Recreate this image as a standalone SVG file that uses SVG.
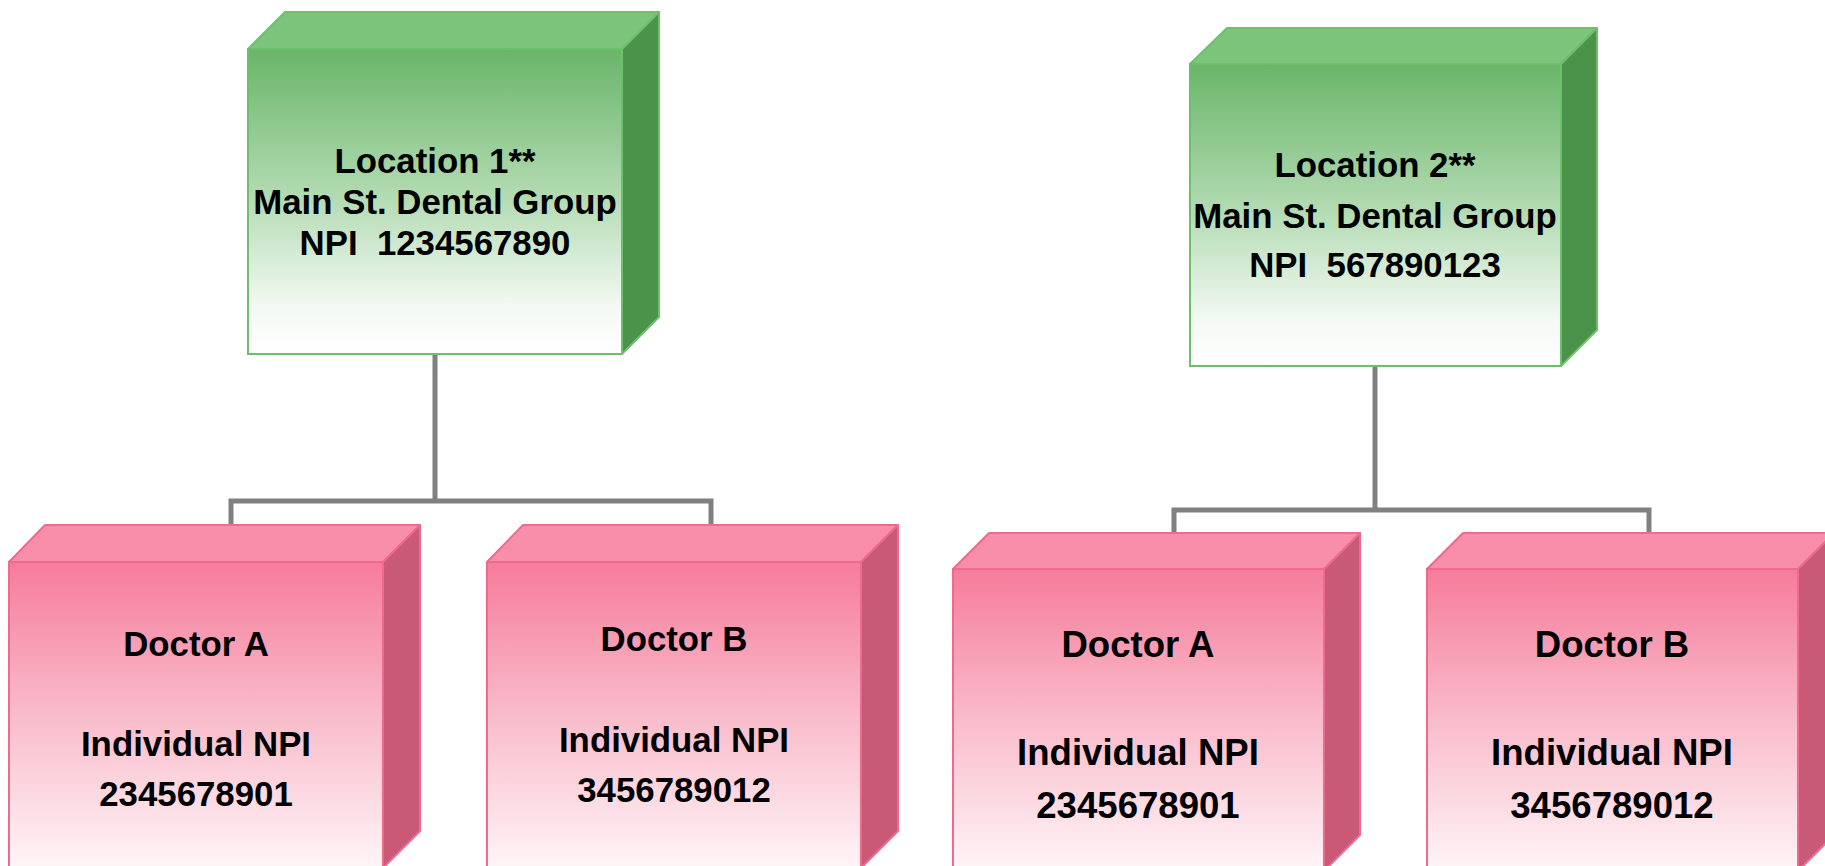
<svg xmlns="http://www.w3.org/2000/svg" width="1825" height="866" viewBox="0 0 1825 866">
<defs>
<linearGradient id="gFront" x1="0" y1="0" x2="0" y2="1">
<stop offset="0" stop-color="#69b569"/>
<stop offset="0.5" stop-color="#b5dcb5"/>
<stop offset="0.85" stop-color="#f4f9f4"/>
<stop offset="1" stop-color="#ffffff"/>
</linearGradient>
<linearGradient id="pFront" x1="0" y1="0" x2="0" y2="1">
<stop offset="0" stop-color="#f67b9b"/>
<stop offset="0.5" stop-color="#f9bccb"/>
<stop offset="1" stop-color="#fff6f8"/>
</linearGradient>
<style>
.gf{fill:url(#gFront);stroke:#6cc06c;stroke-width:2}
.gt{fill:#7cc47c;stroke:#6cc06c;stroke-width:2;stroke-linejoin:round}
.gs{fill:#4b934a;stroke:#6cc06c;stroke-width:2;stroke-linejoin:round}
.pf{fill:url(#pFront);stroke:#f06a90;stroke-width:2}
.pt{fill:#f88eaa;stroke:#f06a90;stroke-width:2;stroke-linejoin:round}
.ps{fill:#c85a78;stroke:#f06a90;stroke-width:2;stroke-linejoin:round}
.lbl{font-family:"Liberation Sans",Arial,sans-serif;font-weight:bold;fill:#000;text-anchor:middle}
.l34{font-size:34.8px}
.l36{font-size:36.6px}
.conn{fill:none;stroke:#808080;stroke-width:5}
</style>
</defs>
<rect width="1825" height="866" fill="#ffffff"/>
<g id="connectors">
<path class="conn" d="M435,354 V501"/>
<path class="conn" d="M231,525 V501 H711 V525"/>
<path class="conn" d="M1375,366 V510"/>
<path class="conn" d="M1174,533 V510 H1649 V533"/>
</g>
<g id="location1">
<polygon class="gt" points="248,49 285,12 659,12 622,49"/>
<polygon class="gs" points="622,49 659,12 659,317 622,354"/>
<rect class="gf" x="248" y="49" width="374" height="305"/>
<text class="lbl l34" xml:space="preserve"><tspan x="435" y="173">Location 1**</tspan><tspan x="435" y="214">Main St. Dental Group</tspan><tspan x="435" y="255">NPI  1234567890</tspan></text>
</g>
<g id="location2">
<polygon class="gt" points="1190,64 1227,28 1597,28 1561,64"/>
<polygon class="gs" points="1561,64 1597,28 1597,330 1561,366"/>
<rect class="gf" x="1190" y="64" width="371" height="302"/>
<text class="lbl l34" xml:space="preserve"><tspan x="1375" y="177">Location 2**</tspan><tspan x="1375" y="228">Main St. Dental Group</tspan><tspan x="1375" y="277">NPI  567890123</tspan></text>
</g>
<g id="doctorA1">
<polygon class="pt" points="9,562 45,525 420,525 383,562"/>
<polygon class="ps" points="383,562 420,525 420,831 383,868"/>
<rect class="pf" x="9" y="562" width="374" height="310"/>
<text class="lbl l34"><tspan x="196" y="656">Doctor A</tspan><tspan x="196" y="756">Individual NPI</tspan><tspan x="196" y="806">2345678901</tspan></text>
</g>
<g id="doctorB1">
<polygon class="pt" points="487,562 523,525 898,525 861,562"/>
<polygon class="ps" points="861,562 898,525 898,831 861,868"/>
<rect class="pf" x="487" y="562" width="374" height="310"/>
<text class="lbl l34"><tspan x="674" y="651">Doctor B</tspan><tspan x="674" y="752">Individual NPI</tspan><tspan x="674" y="802">3456789012</tspan></text>
</g>
<g id="doctorA2">
<polygon class="pt" points="953,569 989,533 1360,533 1324,569"/>
<polygon class="ps" points="1324,569 1360,533 1360,835 1324,871"/>
<rect class="pf" x="953" y="569" width="371" height="305"/>
<text class="lbl l36"><tspan x="1138" y="657">Doctor A</tspan><tspan x="1138" y="765">Individual NPI</tspan><tspan x="1138" y="818">2345678901</tspan></text>
</g>
<g id="doctorB2">
<polygon class="pt" points="1427,569 1463,533 1834,533 1798,569"/>
<polygon class="ps" points="1798,569 1834,533 1834,835 1798,871"/>
<rect class="pf" x="1427" y="569" width="371" height="305"/>
<text class="lbl l36"><tspan x="1612" y="657">Doctor B</tspan><tspan x="1612" y="765">Individual NPI</tspan><tspan x="1612" y="818">3456789012</tspan></text>
</g>
</svg>
